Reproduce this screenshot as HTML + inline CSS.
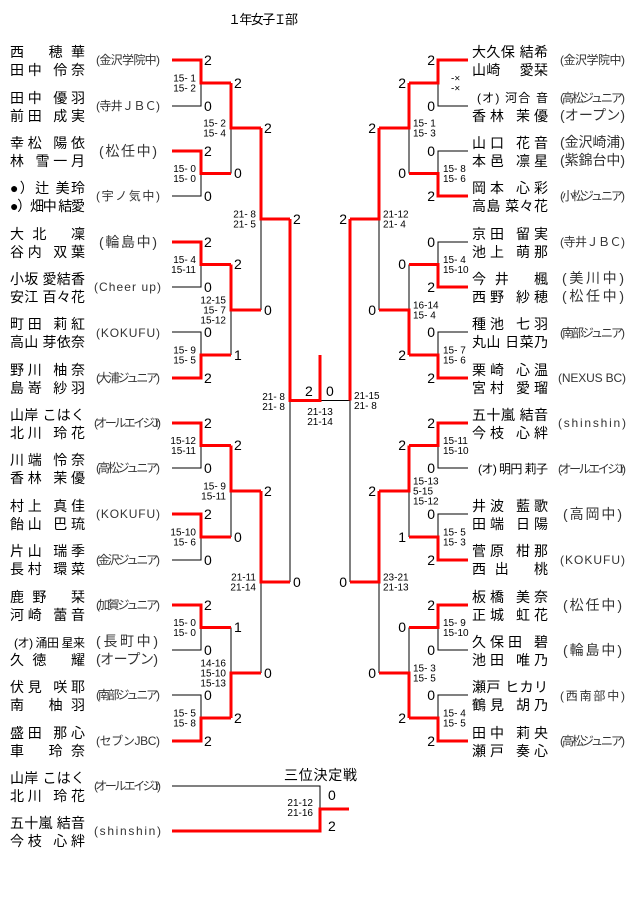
<!DOCTYPE html>
<html><head><meta charset="utf-8"><style>
html,body{margin:0;padding:0;background:#fff;}
svg{display:block;font-family:"Liberation Sans","Noto Sans CJK JP",sans-serif;}
.n{font-size:14px;fill:#000;}
.t{font-size:12px;fill:#333;}
.s{font-size:14px;fill:#000;}
.l{font-size:10px;fill:#000;}
.b{fill:none;stroke:#000;stroke-width:1;}
.r{fill:none;stroke:#f00;stroke-width:3;}
</style></head><body>
<svg width="640" height="905" viewBox="0 0 640 905">
<text x="228" y="24" class="n" style="font-size:13px" textLength="70" lengthAdjust="spacing">１年女子Ｉ部</text>

<path class="b" d="M172,60H201V106H172M201,83H231 M172,151H201V196H172M201,173.5H231 M172,242H201V287H172M201,264.5H231 M172,332H201V378H172M201,355H231 M172,423H201V468H172M201,445.5H231 M172,514H201V560H172M201,537H231 M172,605H201V650H172M201,627.5H231 M172,695H201V741H172M201,718H231"/>
<path class="b" d="M231,83V173.5M231,128H261 M231,264.5V355M231,310H261 M231,445.5V537M231,491H261 M231,627.5V718M231,673H261 M261,128V310M261,219H290 M261,491V673M261,582H290 M290,219V582 M290,400.5H350"/>
<path class="b" d="M468,60H438V106H468M438,83H409 M468,151H438V196H468M438,173.5H409 M468,242H438V287H468M438,264.5H409 M468,332H438V378H468M438,355H409 M468,423H438V468H468M438,445.5H409 M468,514H438V560H468M438,537H409 M468,605H438V650H468M438,627.5H409 M468,695H438V741H468M438,718H409"/>
<path class="b" d="M409,83V173.5M409,128H379 M409,264.5V355M409,310H379 M409,445.5V537M409,491H379 M409,627.5V718M409,673H379 M379,128V310M379,219H350 M379,491V673M379,582H350 M350,219V582"/>

<path class="r" d="M172,60H201V83H231 M172,151H201V173.5H231 M172,242H201V264.5H231 M172,378H201V355H231 M172,423H201V445.5H231 M172,514H201V537H231 M172,605H201V627.5H231 M172,741H201V718H231"/>
<path class="r" d="M231,83V128H261 M231,264.5V310H261 M231,445.5V491H261 M231,718V673H261 M261,128V219H290 M261,491V582H290 M290,219V400.5H320V355"/>
<path class="r" d="M468,60H438V83H409 M468,196H438V173.5H409 M468,287H438V264.5H409 M468,378H438V355H409 M468,423H438V445.5H409 M468,560H438V537H409 M468,605H438V627.5H409 M468,741H438V718H409"/>
<path class="r" d="M409,83V128H379 M409,355V310H379 M409,445.5V491H379 M409,718V673H379 M379,128V219H350 M379,491V582H350 M350,219V400.5"/>

<g class="s">
<text x="204" y="65">2</text><text x="204" y="111">0</text><text x="204" y="156">2</text><text x="204" y="201">0</text>
<text x="204" y="247">2</text><text x="204" y="292">0</text><text x="204" y="337">0</text><text x="204" y="383">2</text>
<text x="204" y="428">2</text><text x="204" y="473">0</text><text x="204" y="519">2</text><text x="204" y="565">0</text>
<text x="204" y="610">2</text><text x="204" y="655">0</text><text x="204" y="700">0</text><text x="204" y="746">2</text>
<text x="234" y="88">2</text><text x="234" y="178">0</text><text x="234" y="269">2</text><text x="234" y="360">1</text>
<text x="234" y="450">2</text><text x="234" y="542">0</text><text x="234" y="632">1</text><text x="234" y="723">2</text>
<text x="264" y="133">2</text><text x="264" y="315">0</text><text x="264" y="496">2</text><text x="264" y="678">0</text>
<text x="293" y="224">2</text><text x="293" y="587">0</text>
<text x="305" y="396">2</text><text x="326" y="396">0</text>
</g>
<g class="s" text-anchor="end">
<text x="435" y="65">2</text><text x="435" y="111">0</text><text x="435" y="156">0</text><text x="435" y="201">2</text>
<text x="435" y="247">0</text><text x="435" y="292">2</text><text x="435" y="337">0</text><text x="435" y="383">2</text>
<text x="435" y="428">2</text><text x="435" y="473">0</text><text x="435" y="519">0</text><text x="435" y="565">2</text>
<text x="435" y="610">2</text><text x="435" y="655">0</text><text x="435" y="700">0</text><text x="435" y="746">2</text>
<text x="406" y="88">2</text><text x="406" y="178">0</text><text x="406" y="269">0</text><text x="406" y="360">2</text>
<text x="406" y="450">2</text><text x="406" y="542">1</text><text x="406" y="632">0</text><text x="406" y="723">2</text>
<text x="376" y="133">2</text><text x="376" y="315">0</text><text x="376" y="496">2</text><text x="376" y="678">0</text>
<text x="347" y="224">2</text><text x="347" y="587">0</text>
</g>

<g class="l" text-anchor="end">
<text x="196" y="81.5">15- 1</text><text x="196" y="91.5">15- 2</text>
<text x="196" y="172">15- 0</text><text x="196" y="182">15- 0</text>
<text x="196" y="263">15- 4</text><text x="196" y="273">15-11</text>
<text x="196" y="353.5">15- 9</text><text x="196" y="363.5">15- 5</text>
<text x="196" y="444">15-12</text><text x="196" y="454">15-11</text>
<text x="196" y="535.5">15-10</text><text x="196" y="545.5">15- 6</text>
<text x="196" y="626">15- 0</text><text x="196" y="636">15- 0</text>
<text x="196" y="716.5">15- 5</text><text x="196" y="726.5">15- 8</text>
<text x="226" y="126.5">15- 2</text><text x="226" y="136.5">15- 4</text>
<text x="226" y="303.5">12-15</text><text x="226" y="313.5">15- 7</text><text x="226" y="323.5">15-12</text>
<text x="226" y="489.5">15- 9</text><text x="226" y="499.5">15-11</text>
<text x="226" y="666.5">14-16</text><text x="226" y="676.5">15-10</text><text x="226" y="686.5">15-13</text>
<text x="256" y="217.5">21- 8</text><text x="256" y="227.5">21- 5</text>
<text x="256" y="580.5">21-11</text><text x="256" y="590.5">21-14</text>
<text x="285" y="400">21- 8</text><text x="285" y="410">21- 8</text>
</g>
<g class="l" text-anchor="middle">
<text x="320" y="415">21-13</text><text x="320" y="425">21-14</text>
</g>
<g class="l">
<text x="354" y="399">21-15</text><text x="354" y="409">21- 8</text>
<text x="451" y="81.5">-×</text><text x="451" y="91.5">-×</text>
<text x="443" y="172">15- 8</text><text x="443" y="182">15- 6</text>
<text x="443" y="263">15- 4</text><text x="443" y="273">15-10</text>
<text x="443" y="353.5">15- 7</text><text x="443" y="363.5">15- 6</text>
<text x="443" y="444">15-11</text><text x="443" y="454">15-10</text>
<text x="443" y="535.5">15- 5</text><text x="443" y="545.5">15- 3</text>
<text x="443" y="626">15- 9</text><text x="443" y="636">15-10</text>
<text x="443" y="716.5">15- 4</text><text x="443" y="726.5">15- 5</text>
<text x="413" y="126.5">15- 1</text><text x="413" y="136.5">15- 3</text>
<text x="413" y="308.5">16-14</text><text x="413" y="318.5">15- 4</text>
<text x="413" y="484.5">15-13</text><text x="413" y="494.5"> 5-15</text><text x="413" y="504.5">15-12</text>
<text x="413" y="671.5">15- 3</text><text x="413" y="681.5">15- 5</text>
<text x="383" y="217.5">21-12</text><text x="383" y="227.5">21- 4</text>
<text x="383" y="580.5">23-21</text><text x="383" y="590.5">21-13</text>
</g>

<g class="n" lengthAdjust="spacing">
<text x="10" y="57" textLength="75">西　 穂 華</text><text x="10" y="75" textLength="75">田中 伶奈</text>
<text x="10" y="103" textLength="75">田中 優羽</text><text x="10" y="121" textLength="75">前田 成実</text>
<text x="10" y="148" textLength="75">幸松 陽依</text><text x="10" y="166" textLength="75">林 雪一月</text>
<text x="10" y="193" textLength="75">●）辻 美玲</text><text x="10" y="211" textLength="75">●）畑中 結愛</text>
<text x="10" y="239" textLength="75">大 北　 凜</text><text x="10" y="257" textLength="75">谷内 双葉</text>
<text x="10" y="284" textLength="75">小坂 愛結香</text><text x="10" y="302" textLength="75">安江 百々花</text>
<text x="10" y="329" textLength="75">町田 莉紅</text><text x="10" y="347" textLength="75">高山 芽依奈</text>
<text x="10" y="375" textLength="75">野川 柚奈</text><text x="10" y="393" textLength="75">島嵜 紗羽</text>
<text x="10" y="420" textLength="75">山岸 こはく</text><text x="10" y="438" textLength="75">北川 玲花</text>
<text x="10" y="465" textLength="75">川端 怜奈</text><text x="10" y="483" textLength="75">香林 茉優</text>
<text x="10" y="511" textLength="75">村上 真佳</text><text x="10" y="529" textLength="75">飴山 巴琉</text>
<text x="10" y="556" textLength="75">片山 瑞季</text><text x="10" y="574" textLength="75">長村 環菜</text>
<text x="10" y="602" textLength="75">鹿 野　 栞</text><text x="10" y="620" textLength="75">河崎 蕾音</text>
<text x="14" y="647" textLength="71" style="font-size:12px">(オ) 涌田 星来</text><text x="10" y="665" textLength="75">久 徳　 耀</text>
<text x="10" y="692" textLength="75">伏見 咲耶</text><text x="10" y="710" textLength="75">南　 柚 羽</text>
<text x="10" y="738" textLength="75">盛田 那心</text><text x="10" y="756" textLength="75">車　 玲 奈</text>
<text x="10" y="783" textLength="75">山岸 こはく</text><text x="10" y="801" textLength="75">北川 玲花</text>
<text x="10" y="828" textLength="75">五十嵐 結音</text><text x="10" y="846" textLength="75">今枝 心絆</text>
</g>
<g class="t" lengthAdjust="spacingAndGlyphs">
<text x="96" y="64" textLength="64">(金沢学院中)</text>
<text x="96" y="110" textLength="64">(寺井ＪＢＣ)</text>
<text x="99" y="156" textLength="58" style="font-size:14px">(松任中)</text>
<text x="96" y="200" textLength="64">(宇ノ気中)</text>
<text x="99" y="247" textLength="58" style="font-size:14px">(輪島中)</text>
<text x="94" y="291" textLength="67">(Cheer up)</text>
<text x="96" y="337" textLength="64">(KOKUFU)</text>
<text x="96" y="382" textLength="64">(大浦ジュニア)</text>
<text x="94" y="427" textLength="67">(オールエイジJr)</text>
<text x="96" y="472" textLength="64">(高松ジュニア)</text>
<text x="96" y="518" textLength="64">(KOKUFU)</text>
<text x="96" y="564" textLength="64">(金沢ジュニア)</text>
<text x="96" y="609" textLength="64">(加賀ジュニア)</text>
<text x="96" y="646" textLength="62" style="font-size:14px">(長町中)</text>
<text x="96" y="664" textLength="62" style="font-size:14px">(オープン)</text>
<text x="96" y="699" textLength="64">(南部ジュニア)</text>
<text x="96" y="745" textLength="64">(セブンJBC)</text>
<text x="94" y="790" textLength="67">(オールエイジJr)</text>
<text x="94" y="835" textLength="67">(shinshin)</text>
</g>

<g class="n" lengthAdjust="spacing">
<text x="472" y="57" textLength="76">大久保 結希</text><text x="472" y="75" textLength="76">山崎　 愛栞</text>
<text x="477" y="102" textLength="71" style="font-size:12px">(オ) 河合 音</text><text x="472" y="121" textLength="76">香林 茉優</text>
<text x="472" y="148" textLength="76">山口 花音</text><text x="472" y="166" textLength="76">本邑 凛星</text>
<text x="472" y="193" textLength="76">岡本 心彩</text><text x="472" y="211" textLength="76">高島 菜々花</text>
<text x="472" y="239" textLength="76">京田 留実</text><text x="472" y="257" textLength="76">池上 萌那</text>
<text x="472" y="284" textLength="76">今 井　 楓</text><text x="472" y="302" textLength="76">西野 紗穂</text>
<text x="472" y="329" textLength="76">種池 七羽</text><text x="472" y="347" textLength="76">丸山 日菜乃</text>
<text x="472" y="375" textLength="76">栗崎 心温</text><text x="472" y="393" textLength="76">宮村 愛瑠</text>
<text x="472" y="420" textLength="76">五十嵐 結音</text><text x="472" y="438" textLength="76">今枝 心絆</text>
<text x="478" y="473" textLength="70" style="font-size:12px">(オ) 明円 莉子</text>
<text x="472" y="511" textLength="76">井波 藍歌</text><text x="472" y="529" textLength="76">田端 日陽</text>
<text x="472" y="556" textLength="76">菅原 柑那</text><text x="472" y="574" textLength="76">西 出　 桃</text>
<text x="472" y="602" textLength="76">板橋 美奈</text><text x="472" y="620" textLength="76">正城 虹花</text>
<text x="472" y="647" textLength="76">久保田 碧</text><text x="472" y="665" textLength="76">池田 唯乃</text>
<text x="472" y="692" textLength="76">瀬戸 ヒカリ</text><text x="472" y="710" textLength="76">鶴見 胡乃</text>
<text x="472" y="738" textLength="76">田中 莉央</text><text x="472" y="756" textLength="76">瀬戸 奏心</text>
</g>
<g class="t" lengthAdjust="spacingAndGlyphs">
<text x="560" y="64" textLength="65">(金沢学院中)</text>
<text x="560" y="102" textLength="65">(高松ジュニア)</text>
<text x="560" y="120" textLength="65" style="font-size:14px">(オープン)</text>
<text x="560" y="147" textLength="65" style="font-size:14px">(金沢崎浦)</text>
<text x="560" y="165" textLength="65" style="font-size:14px">(紫錦台中)</text>
<text x="560" y="200" textLength="65">(小松ジュニア)</text>
<text x="560" y="246" textLength="65">(寺井ＪＢＣ)</text>
<text x="562" y="283" textLength="62" style="font-size:14px">(美川中)</text>
<text x="562" y="301" textLength="62" style="font-size:14px">(松任中)</text>
<text x="560" y="337" textLength="65">(南部ジュニア)</text>
<text x="558" y="382" textLength="68">(NEXUS BC)</text>
<text x="558" y="427" textLength="68">(shinshin)</text>
<text x="558" y="473" textLength="68">(オールエイジJr)</text>
<text x="563" y="519" textLength="59" style="font-size:14px">(高岡中)</text>
<text x="560" y="564" textLength="65">(KOKUFU)</text>
<text x="563" y="610" textLength="59" style="font-size:14px">(松任中)</text>
<text x="563" y="655" textLength="59" style="font-size:14px">(輪島中)</text>
<text x="560" y="700" textLength="65">(西南部中)</text>
<text x="560" y="745" textLength="65">(高松ジュニア)</text>
</g>

<text x="284" y="780" class="n" textLength="73" lengthAdjust="spacing">三位決定戦</text>
<path class="b" d="M172,786H320V831"/>
<path class="r" d="M172,831H320V809H349"/>
<text x="328" y="800" class="s">0</text>
<text x="328" y="831" class="s">2</text>
<g class="l" text-anchor="end"><text x="313" y="806">21-12</text><text x="313" y="816">21-16</text></g>
</svg>
</body></html>
